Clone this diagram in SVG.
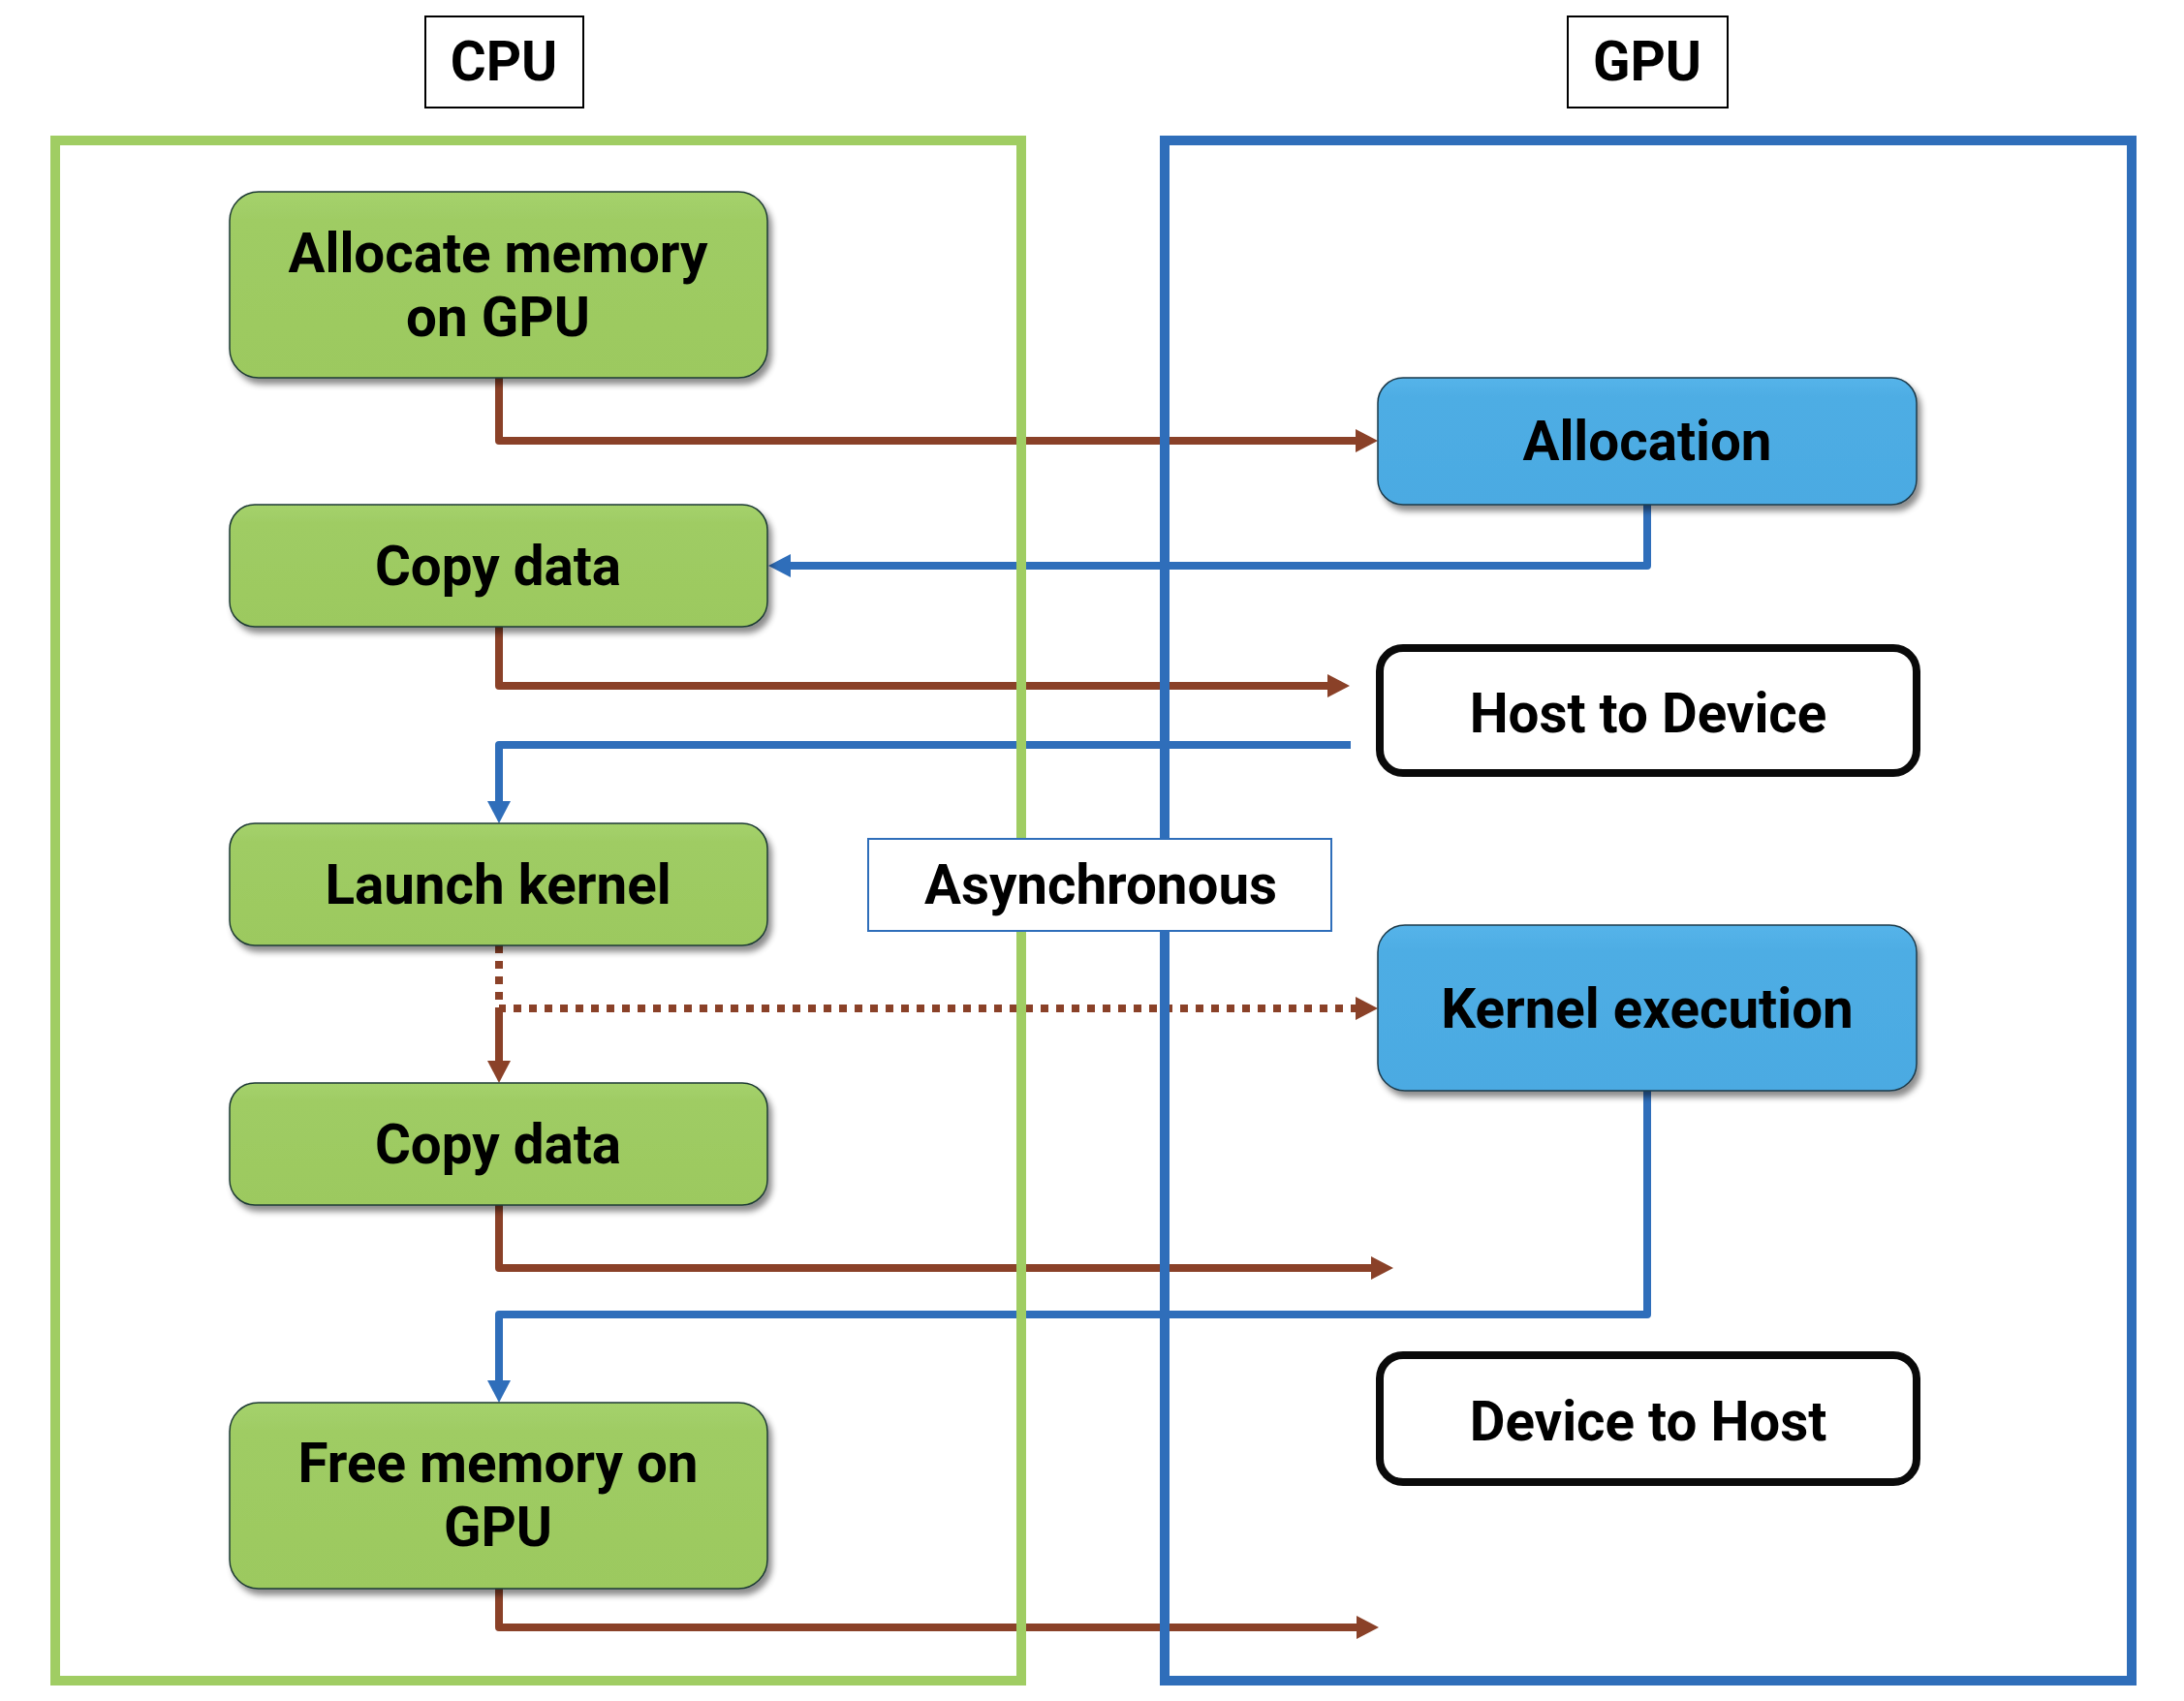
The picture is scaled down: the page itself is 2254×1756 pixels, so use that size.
<svg xmlns="http://www.w3.org/2000/svg" width="2254" height="1756" viewBox="0 0 2254 1756">
<style>
text{font-family:Roboto,"Liberation Sans",sans-serif;font-weight:bold;font-size:56.5px;fill:#000;text-anchor:middle}
.brown{fill:none;stroke:#8A4128;stroke-width:8;stroke-linejoin:round}
.blue{fill:none;stroke:#2F6EBA;stroke-width:8;stroke-linejoin:round}
.dot{fill:none;stroke:#8A4128;stroke-width:8;stroke-dasharray:8 8}
.gnode{fill:url(#gg);stroke:#1E3A34;stroke-width:1.5;filter:url(#sh)}
.bnode{fill:url(#bg);stroke:#1E3A4A;stroke-width:1.5;filter:url(#sh)}
.wnode{fill:#fff;stroke:#0A0A0A;stroke-width:8}
</style>
<defs>
<linearGradient id="gg" x1="0" y1="0" x2="0" y2="1"><stop offset="0" stop-color="#A5D26C"/><stop offset="0.15" stop-color="#9FCC64"/><stop offset="1" stop-color="#9CC95F"/></linearGradient>
<linearGradient id="bg" x1="0" y1="0" x2="0" y2="1"><stop offset="0" stop-color="#55B4EA"/><stop offset="0.15" stop-color="#4EADE4"/><stop offset="1" stop-color="#4BAAE2"/></linearGradient>
<filter id="sh" x="-10%" y="-10%" width="125%" height="135%"><feDropShadow dx="4" dy="6" stdDeviation="3" flood-color="#000" flood-opacity="0.45"/></filter>
<marker id="ab" markerUnits="userSpaceOnUse" markerWidth="23" markerHeight="24" refX="12" refY="12" orient="auto"><path d="M0,0 L23,12 L0,24 z" fill="#8A4128"/></marker>
<marker id="au" markerUnits="userSpaceOnUse" markerWidth="23" markerHeight="24" refX="12" refY="12" orient="auto"><path d="M0,0 L23,12 L0,24 z" fill="#2F6EBA"/></marker>
</defs>
<g id="connectors">
<path class="brown" d="M515,390 V455 H1411" marker-end="url(#ab)"/>
<path class="blue" d="M1700,521 V584 H804" marker-end="url(#au)"/>
<path class="brown" d="M515,647 V708 H1382" marker-end="url(#ab)"/>
<path class="blue" d="M1394,769 H515 V839" marker-end="url(#au)"/>
<path class="dot" d="M515,976 V1041 H1411" marker-end="url(#ab)"/>
<path class="brown" d="M515,1040 V1107" marker-end="url(#ab)"/>
<path class="brown" d="M515,1244 V1309 H1427" marker-end="url(#ab)"/>
<path class="blue" d="M1700,1126 V1357 H515 V1437" marker-end="url(#au)"/>
<path class="brown" d="M515,1640 V1680 H1412" marker-end="url(#ab)"/>
</g>
<g id="cpu-container"><rect x="57" y="145" width="997" height="1590" fill="none" stroke="#A0CD63" stroke-width="10"/></g>
<g id="gpu-container"><rect x="1202" y="145" width="998" height="1590" fill="none" stroke="#2F6EBA" stroke-width="10"/></g>
<g id="cpu-label"><rect x="439" y="17" width="163" height="94" fill="#fff" stroke="#000" stroke-width="2"/><text x="520" y="83">CPU</text></g>
<g id="gpu-label"><rect x="1618" y="17" width="165" height="94" fill="#fff" stroke="#000" stroke-width="2"/><text x="1700" y="83">GPU</text></g>
<g id="async"><rect x="896" y="866" width="478" height="95" fill="#fff" stroke="#2F6EBA" stroke-width="2"/><text x="1136" y="933">Asynchronous</text></g>
<g id="alloc-mem"><rect class="gnode" x="237" y="198" width="555" height="192" rx="30"/><text x="514" y="281">Allocate memory</text><text x="514" y="347">on GPU</text></g>
<g id="copy1"><rect class="gnode" x="237" y="521" width="555" height="126" rx="26"/><text x="514" y="604">Copy data</text></g>
<g id="launch"><rect class="gnode" x="237" y="850" width="555" height="126" rx="26"/><text x="514" y="933">Launch kernel</text></g>
<g id="copy2"><rect class="gnode" x="237" y="1118" width="555" height="126" rx="26"/><text x="514" y="1201">Copy data</text></g>
<g id="free-mem"><rect class="gnode" x="237" y="1448" width="555" height="192" rx="30"/><text x="514" y="1530">Free memory on</text><text x="514" y="1596">GPU</text></g>
<g id="allocation"><rect class="bnode" x="1422" y="390" width="556" height="131" rx="26"/><text x="1700" y="475">Allocation</text></g>
<g id="h2d"><rect class="wnode" x="1424" y="669" width="554" height="129" rx="24"/><text x="1701" y="756">Host to Device</text></g>
<g id="kernel-exec"><rect class="bnode" x="1422" y="955" width="556" height="171" rx="28"/><text x="1700" y="1061">Kernel execution</text></g>
<g id="d2h"><rect class="wnode" x="1424" y="1399" width="554" height="131" rx="24"/><text x="1701" y="1487">Device to Host</text></g>
</svg>
